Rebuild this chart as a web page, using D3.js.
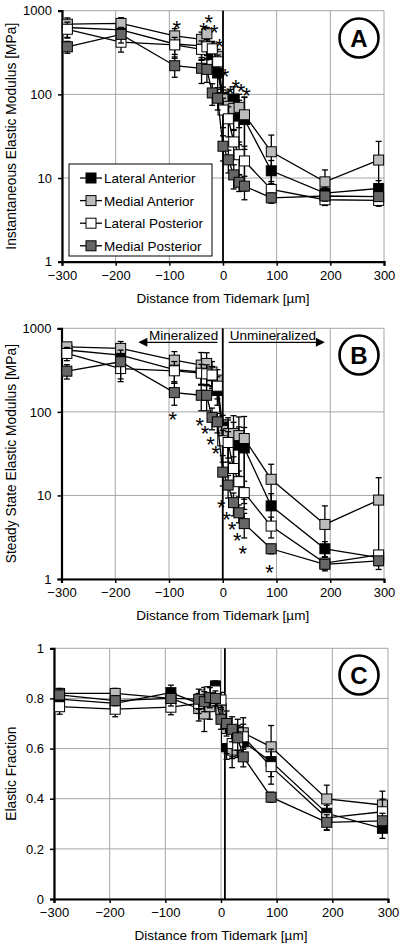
<!DOCTYPE html>
<html><head><meta charset="utf-8">
<script src="https://cdn.jsdelivr.net/npm/d3@7"></script>
<style>
body{margin:0;background:#fff}
text{font-family:"Liberation Sans",Arial,sans-serif;fill:#000}
</style>
</head><body>
<svg id="chart" width="404" height="946"></svg>
<script>
// ---------------- DATA ----------------
const distances = [-290,-190,-90,-40,-30,-20,-10,0,10,20,30,40,90,190,290];
const seriesNames = ["Lateral Anterior","Medial Anterior","Lateral Posterior","Medial Posterior"];
const xTicks = [-300,-200,-100,0,100,200,300];
const logTicks = [1,10,100,1000];
const fracTicks = [0,0.2,0.4,0.6,0.8,1];

// Panel A: Instantaneous elastic modulus [MPa]
const instLA = [630,590,400,380,370,300,180,92,80,88,55,50,12.2,6.6,7.5];
const instMA = [690,705,500,455,530,350,285,88,72,68,70,57,20.6,9.0,16.4];
const instLP = [600,420,390,345,370,350,245,65,51,27,19,16,7.3,5.5,5.4];
const instMP = [370,521,220,205,199,104,90,24,16.5,10.9,8.9,8.0,5.8,6.1,6.0];
const instErrLA = [150,120,130,120,100,90,60,30,30,35,30,43,4,1.2,1.8];
const instErrMA = [130,120,110,100,100,80,60,25,25,30,30,35,12,3.5,11];
const instErrLP = [130,100,90,90,80,70,50,25,20,10,8,8,1.8,0.8,0.8];
const instErrMP = [60,110,60,70,60,30,25,8,5,3.5,2,2.5,0.8,0.8,0.7];
const instStarX = [-90,-40,-30,-20,-10,0,10,20,30,40];
const instStarV = [720,672,830,645,437,191,118,141,126,113];

// Panel B: Steady state elastic modulus [MPa]
const ssLA = [550,478,320,300,300,270,180,66,50,45,40,37,7.5,2.3,1.8];
const ssMA = [600,575,416,363,380,300,240,60,55,55,52,48,15.6,4.5,8.8];
const ssLP = [500,330,310,290,285,276,203,45,43,21,14.6,10.8,4.3,1.55,1.94];
const ssMP = [307,398,170,158,158,86,76,19,13.3,8.2,6.2,4.6,2.3,1.5,1.65];
const ssErrLA = [100,120,90,90,90,80,60,25,30,30,26,28,3,0.5,0.3];
const ssErrMA = [70,120,110,150,130,100,80,20,30,35,35,40,8,3,7.5];
const ssErrLP = [90,100,90,80,80,70,60,15,15,8,5,4,1.2,0.3,0.2];
const ssErrMP = [60,150,50,55,55,25,20,6,4,2.5,1.5,1.5,0.3,0.2,0.2];
const ssStarX = [-90,-40,-30,-20,-10,0,10,20,30,40,90];
const ssStarV = [93.5,81,64.5,47,36.6,8.4,6.0,4.5,3.4,2.35,1.38];

// Panel C: Elastic fraction
const efLA = [0.797,0.78,0.823,0.78,0.79,0.80,0.85,0.76,0.607,0.627,0.667,0.627,0.548,0.342,0.282];
const efMA = [0.82,0.82,0.80,0.76,0.738,0.767,0.79,0.754,0.66,0.594,0.62,0.663,0.607,0.399,0.375];
const efLP = [0.767,0.757,0.765,0.78,0.814,0.827,0.83,0.794,0.64,0.62,0.614,0.647,0.528,0.324,0.348];
const efMP = [0.814,0.791,0.80,0.797,0.787,0.803,0.80,0.717,0.70,0.677,0.643,0.567,0.406,0.306,0.312];
const efErrLA = [0.02,0.02,0.03,0.03,0.03,0.03,0.02,0.03,0.05,0.06,0.05,0.05,0.06,0.05,0.04];
const efErrMA = [0.02,0.02,0.03,0.05,0.07,0.05,0.03,0.04,0.06,0.07,0.05,0.06,0.085,0.055,0.055];
const efErrLP = [0.03,0.03,0.03,0.04,0.03,0.02,0.02,0.03,0.06,0.06,0.05,0.05,0.07,0.05,0.05];
const efErrMP = [0.02,0.02,0.03,0.04,0.04,0.04,0.03,0.04,0.05,0.05,0.05,0.04,0.02,0.03,0.03];

const tidemarkAB = 0;
const tidemarkC = 7;

// ---------------- STYLE ----------------
const fills = ["#000000","#bcbcbc","#ffffff","#666666"];
const svg = d3.select("#chart");

const panels = [
  {label:"A", log:true, domain:[1,1000], ticks:logTicks, fmt:d3.format("d"),
   left:62, right:384, top:10.7, bottom:261.7,
   ytitle:"Instantaneous Elastic Modulus [MPa]",
   vals:[instLA,instMA,instLP,instMP], errs:[instErrLA,instErrMA,instErrLP,instErrMP],
   starX:instStarX, starV:instStarV, starDx:2, tide:tidemarkAB, legend:true, cx:359, cy:38},
  {label:"B", log:true, domain:[1,1000], ticks:logTicks, fmt:d3.format("d"),
   left:61.5, right:384, top:328.3, bottom:579,
   ytitle:"Steady State Elastic Modulus [MPa]",
   vals:[ssLA,ssMA,ssLP,ssMP], errs:[ssErrLA,ssErrMA,ssErrLP,ssErrMP],
   starX:ssStarX, starV:ssStarV, starDx:-1.5, tide:tidemarkAB, arrows:true, cx:359, cy:355},
  {label:"C", log:false, domain:[0,1], ticks:fracTicks, fmt:d => d===0||d===1 ? String(d) : d3.format(".1f")(d),
   left:54, right:388, top:648.3, bottom:899,
   ytitle:"Elastic Fraction",
   vals:[efLA,efMA,efLP,efMP], errs:[efErrLA,efErrMA,efErrLP,efErrMP],
   starX:[], starV:[], starDx:0, tide:tidemarkC, cx:359, cy:675}
];

panels.forEach(p => {
  const g = svg.append("g");
  const x = d3.scaleLinear().domain([-300,300]).range([p.left,p.right]);
  const y = (p.log ? d3.scaleLog() : d3.scaleLinear()).domain(p.domain).range([p.bottom,p.top]);

  // gridlines
  g.append("g").selectAll("line.gx").data(xTicks).join("line")
    .attr("x1",d=>x(d)).attr("x2",d=>x(d)).attr("y1",p.top).attr("y2",p.bottom)
    .attr("stroke","#a6a6a6").attr("stroke-width",1);
  g.append("g").selectAll("line.gy").data(p.ticks).join("line")
    .attr("x1",p.left).attr("x2",p.right).attr("y1",d=>y(d)).attr("y2",d=>y(d))
    .attr("stroke","#a6a6a6").attr("stroke-width",1);

  // tidemark line
  g.append("line").attr("x1",x(p.tide)).attr("x2",x(p.tide)).attr("y1",p.top).attr("y2",p.bottom)
    .attr("stroke","#000").attr("stroke-width",1.8);

  // axes
  const ya = g.append("g").attr("transform",`translate(${p.left},0)`)
    .call(d3.axisLeft(y).tickValues(p.ticks).tickFormat(p.fmt).tickSize(4).tickPadding(6));
  const xa = g.append("g").attr("transform",`translate(0,${p.bottom})`)
    .call(d3.axisBottom(x).tickValues(xTicks).tickFormat(d3.format("d")).tickSize(4).tickPadding(5));
  [ya,xa].forEach(a=>{
    a.select(".domain").attr("stroke","#000").attr("stroke-width",2.2);
    a.selectAll(".tick line").attr("stroke","#000").attr("stroke-width",1.5);
    a.selectAll(".tick text").attr("font-size",13).attr("font-family",'"Liberation Sans",Arial,sans-serif');
  });

  // axis titles
  g.append("text").attr("x",(p.left+p.right)/2).attr("y",p.bottom+41)
    .attr("text-anchor","middle").attr("font-size",13.5).text("Distance from Tidemark [µm]");
  g.append("text").attr("transform",`translate(16,${(p.top+p.bottom)/2}) rotate(-90)`)
    .attr("text-anchor","middle").attr("font-size",13.8).text(p.ytitle);

  // series
  p.vals.forEach((vals,si) => {
    const errs = p.errs[si];
    const pts = distances.map((d,i)=>({x:d, v:vals[i], e:errs[i]}));
    const sg = g.append("g");
    pts.forEach(pt=>{
      const lo = Math.max(p.domain[0], pt.v-pt.e), hi = Math.min(p.domain[1], pt.v+pt.e);
      const cx = x(pt.x);
      sg.append("line").attr("x1",cx).attr("x2",cx).attr("y1",y(lo)).attr("y2",y(hi))
        .attr("stroke","#000").attr("stroke-width",1.3);
      [hi,lo].forEach(b=>{
        if (b===p.domain[0]) return;
        sg.append("line").attr("x1",cx-3).attr("x2",cx+3).attr("y1",y(b)).attr("y2",y(b))
          .attr("stroke","#000").attr("stroke-width",1.3);
      });
    });
    sg.append("path").datum(pts)
      .attr("d", d3.line().x(d=>x(d.x)).y(d=>y(d.v)))
      .attr("fill","none").attr("stroke","#000").attr("stroke-width",1.3);
    sg.selectAll("rect").data(pts).join("rect")
      .attr("x",d=>x(d.x)-5).attr("y",d=>y(d.v)-5).attr("width",10).attr("height",10)
      .attr("fill",fills[si]).attr("stroke","#000").attr("stroke-width",1);
  });

  // significance stars
  g.selectAll("text.star").data(p.starX.map((d,i)=>({x:d,v:p.starV[i]}))).join("text")
    .attr("class","star")
    .attr("x",d=>x(d.x)+p.starDx).attr("y",d=>y(d.v)+13)
    .attr("text-anchor","middle").attr("font-size",22).text("*");

  // panel label circle
  g.append("circle").attr("cx",p.cx).attr("cy",p.cy).attr("r",19.5)
    .attr("fill","#fff").attr("stroke","#000").attr("stroke-width",2.6);
  g.append("text").attr("x",p.cx).attr("y",p.cy+8.5).attr("text-anchor","middle")
    .attr("font-size",24).attr("font-weight","bold").text(p.label);

  // legend
  if (p.legend) {
    const lg = g.append("g");
    lg.append("rect").attr("x",69).attr("y",164).attr("width",143).attr("height",92)
      .attr("fill","#fff").attr("stroke","#000").attr("stroke-width",1);
    seriesNames.forEach((n,i)=>{
      const yy = 178 + i*22.6;
      lg.append("line").attr("x1",80).attr("x2",102).attr("y1",yy).attr("y2",yy)
        .attr("stroke","#000").attr("stroke-width",1.3);
      lg.append("rect").attr("x",86).attr("y",yy-5).attr("width",10).attr("height",10)
        .attr("fill",fills[i]).attr("stroke","#000").attr("stroke-width",1);
      lg.append("text").attr("x",104).attr("y",yy+5).attr("font-size",13.5).text(n);
    });
  }

  // mineralized / unmineralized arrows
  if (p.arrows) {
    const ay = 342.3;
    const ag = g.append("g");
    ag.append("line").attr("x1",x(-155)).attr("x2",x(-10)).attr("y1",ay).attr("y2",ay)
      .attr("stroke","#000").attr("stroke-width",1.2);
    ag.append("path").attr("d",`M${x(-157)},${ay} L${x(-157)+9},${ay-4.5} L${x(-157)+9},${ay+4.5} Z`).attr("fill","#000");
    ag.append("text").attr("x",x(-137)).attr("y",ay-2.5).attr("font-size",13.5).text("Mineralized");
    ag.append("line").attr("x1",x(11)).attr("x2",x(180)).attr("y1",ay).attr("y2",ay)
      .attr("stroke","#000").attr("stroke-width",1.2);
    ag.append("path").attr("d",`M${x(190)},${ay} L${x(190)-9},${ay-4.5} L${x(190)-9},${ay+4.5} Z`).attr("fill","#000");
    ag.append("text").attr("x",x(13)).attr("y",ay-2.5).attr("font-size",13.5).text("Unmineralized");
  }
});
</script>
</body></html>
